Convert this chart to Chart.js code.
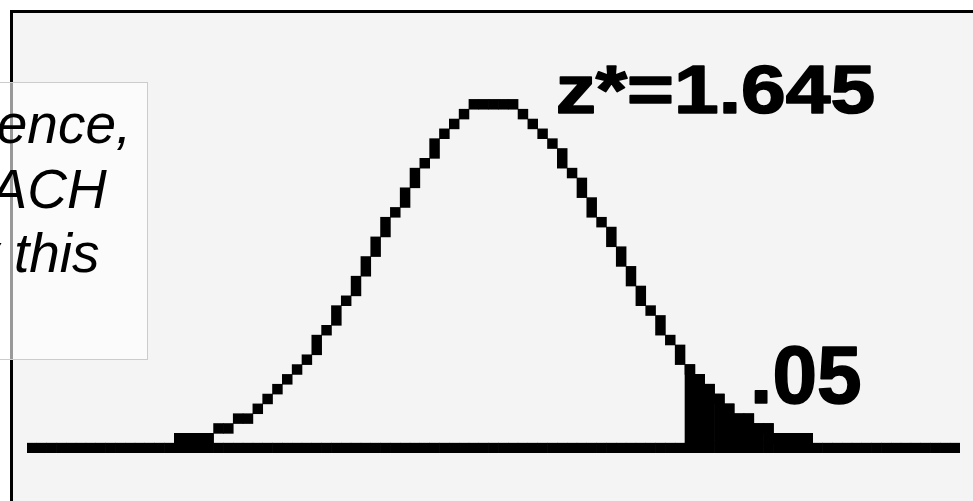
<!DOCTYPE html>
<html>
<head>
<meta charset="utf-8">
<script src="https://cdn.jsdelivr.net/npm/chart.js@4.4.1/dist/chart.umd.min.js"></script>
<style>
  html, body { margin: 0; padding: 0; background: #ffffff; }
  canvas { display: block; }
</style>
</head>
<body>
<canvas id="normalChart" width="973" height="501"></canvas>
<script>
// calculator screen: 95 pixel columns on the axis, rows counted up from the axis row (row 0)
const axisColumns = 95;
const curveFirstCol = 15;
// top and bottom row of the plotted curve, columns 15..79
const curveTop = [1, 1, 1, 1, 2, 2, 3, 3, 4, 5, 6, 7, 8, 9, 11, 12, 14, 15, 17, 19, 21, 23, 24, 26, 28, 29, 31, 32, 33, 34,
  35, 35, 35, 35, 35, 34, 33, 32, 31, 30, 28, 27, 25, 23, 22, 20, 18, 16, 14, 13, 11, 10,
  8, 7, 6, 5, 4, 3, 3, 2, 2, 1, 1, 1, 1];
const curveBottom = [1, 1, 1, 1, 2, 2, 3, 3, 4, 5, 6, 7, 8, 9, 10, 12, 13, 15, 16, 18, 20, 22, 24, 25, 27, 29, 30, 32, 33, 34,
  35, 35, 35, 35, 35, 34, 33, 32, 31, 29, 28, 26, 24, 23, 21, 19, 17, 15, 14, 12, 11, 9,
  8, 7, 6, 5, 4, 3, 3, 2, 2, 1, 1, 1, 1];
// shaded upper tail starts at this column
const tailFirstCol = 67;
const zLabel = 'z*=1.645';
const areaLabel = '.05';
const noteLines = ['90% confidence,', 'in EACH', 'by this'];

const labels = [];
const axisBars = [];
const curveBars = [];
const tailBars = [];
for (let c = 0; c < axisColumns; c++) {
  labels.push(String(c));
  axisBars.push([0, 1]);
  const i = c - curveFirstCol;
  if (i >= 0 && i < curveTop.length) {
    curveBars.push([curveBottom[i], curveTop[i] + 1]);
    tailBars.push(c >= tailFirstCol ? [1, curveTop[i] + 1] : null);
  } else {
    curveBars.push(null);
    tailBars.push(null);
  }
}

function fitText(ctx, text, font, left, right, baseline) {
  ctx.save();
  ctx.font = font;
  ctx.textAlign = 'left';
  ctx.textBaseline = 'alphabetic';
  const m = ctx.measureText(text);
  const ink = m.actualBoundingBoxLeft + m.actualBoundingBoxRight;
  const sx = (right - left) / ink;
  ctx.translate(left, baseline);
  ctx.scale(sx, 1);
  ctx.fillText(text, m.actualBoundingBoxLeft, 0);
  ctx.lineWidth = 1.6;
  ctx.lineJoin = 'round';
  ctx.strokeStyle = '#000000';
  ctx.strokeText(text, m.actualBoundingBoxLeft, 0);
  ctx.restore();
}

const framePlugin = {
  id: 'frame',
  beforeDraw(chart) {
    const ctx = chart.ctx;
    ctx.save();
    ctx.fillStyle = '#ffffff';
    ctx.fillRect(0, 0, chart.width, chart.height);
    ctx.fillStyle = '#f4f4f4';
    ctx.fillRect(12, 12, chart.width - 12, chart.height - 12);
    ctx.fillStyle = '#000000';
    ctx.fillRect(10, 10, chart.width - 10, 3);
    ctx.fillRect(10, 10, 3, chart.height - 10);
    ctx.restore();
  },
  afterDraw(chart) {
    const ctx = chart.ctx;
    ctx.save();
    ctx.fillStyle = '#000000';
    fitText(ctx, zLabel, 'bold 68px "Liberation Sans", Arial, sans-serif', 558, 873, 113);
    fitText(ctx, areaLabel, 'bold 82px "Liberation Sans", Arial, sans-serif', 755, 860, 403);

    // note box running off the left edge
    ctx.fillStyle = 'rgba(255,255,255,0.6)';
    ctx.fillRect(-2, 82, 149, 277);
    ctx.strokeStyle = '#cccccc';
    ctx.lineWidth = 1;
    ctx.strokeRect(-2, 82.5, 149.5, 277);
    ctx.fillStyle = '#000000';
    ctx.font = 'italic 55px "Liberation Sans", Arial, sans-serif';
    ctx.textAlign = 'left';
    ctx.textBaseline = 'alphabetic';
    const rights = [125, 107, 99];
    const baselines = [143, 208, 272];
    noteLines.forEach((t, k) => {
      const m = ctx.measureText(t);
      ctx.fillText(t, rights[k] - m.actualBoundingBoxRight, baselines[k]);
    });
    ctx.restore();
  }
};

const barStyle = {
  backgroundColor: '#000000',
  borderWidth: 0,
  barPercentage: 1,
  categoryPercentage: 1,
  grouped: false
};

const ctx = document.getElementById('normalChart').getContext('2d');
const normalChart = new Chart(ctx, {
  type: 'bar',
  data: {
    labels: labels,
    datasets: [
      Object.assign({ label: 'axis', data: axisBars }, barStyle),
      Object.assign({ label: 'curve', data: curveBars }, barStyle),
      Object.assign({ label: 'tail', data: tailBars }, barStyle)
    ]
  },
  options: {
    responsive: false,
    animation: false,
    layout: { padding: { left: 27, right: 13, top: 11, bottom: 48 } },
    scales: {
      x: { display: false },
      y: { display: false, min: 0, max: 45 }
    },
    plugins: {
      legend: { display: false },
      tooltip: { enabled: false }
    }
  },
  plugins: [framePlugin]
});
</script>
</body>
</html>
